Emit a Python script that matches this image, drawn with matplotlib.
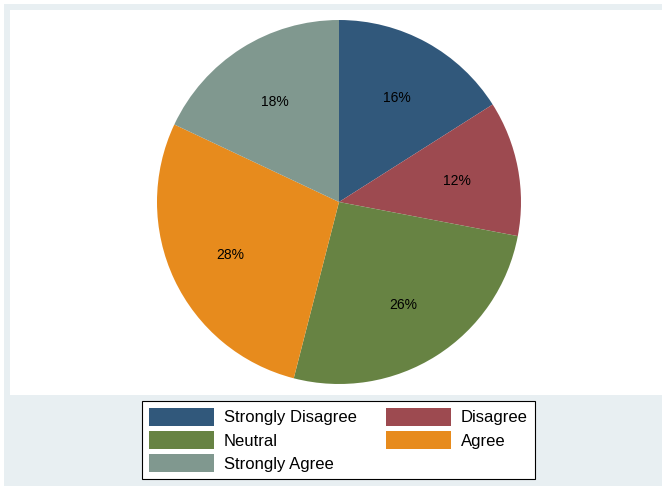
import matplotlib.pyplot as plt
from matplotlib.patches import Rectangle, Patch

plt.rcParams['font.family'] = ['Liberation Sans', 'DejaVu Sans']

# survey responses, share of respondents (%)
categories = ['Strongly Disagree', 'Disagree', 'Neutral', 'Agree', 'Strongly Agree']
shares = [16, 12, 26, 28, 18]
colors = ['#31587b', '#9d4a50', '#678343', '#e78b1d', '#80988f']

W, H = 662, 488
fig = plt.figure(figsize=(W / 100, H / 100), dpi=100, facecolor='white')

# light graph-region band and white plot region
fig.patches.append(Rectangle((4 / W, 2 / H), 1, (H - 6) / H, transform=fig.transFigure,
                             facecolor='#e8eff2', edgecolor='none', zorder=-10))
fig.patches.append(Rectangle((10 / W, (H - 395) / H), 1, (395 - 10) / H, transform=fig.transFigure,
                             facecolor='white', edgecolor='none', zorder=-9))

r = 182
cx, cy = 339, H - 202
ax = fig.add_axes([(cx - r) / W, (cy - r) / H, 2 * r / W, 2 * r / H])
ax.set_zorder(1)
ax.patch.set_visible(False)

wedges, texts = ax.pie(shares, colors=colors, startangle=90, counterclock=False,
                       labels=[f'{s}%' for s in shares], labeldistance=0.66,
                       wedgeprops=dict(linewidth=0),
                       textprops=dict(fontsize=10, color='black', ha='center',
                                      va='center_baseline'))
ax.set_xlim(-1, 1)
ax.set_ylim(-1, 1)
ax.set_aspect('equal')
ax.axis('off')

# legend filled row by row: two columns
order = [0, 2, 4, 1, 3]
handles = [Patch(facecolor=colors[i], edgecolor='none') for i in order]
labels = [categories[i] for i in order]
leg = fig.legend(handles, labels, ncol=2, loc='center',
                 bbox_to_anchor=(338.5 / W, (H - 440) / H),
                 fontsize=12, frameon=True, fancybox=False, shadow=False, framealpha=1,
                 handlelength=3.9, handleheight=1.3, handletextpad=0.6,
                 columnspacing=1.75, labelspacing=0.3, borderpad=0.4,
                 borderaxespad=0)
leg.set_zorder(2)
leg.get_frame().set_edgecolor('black')
leg.get_frame().set_linewidth(0.8)
leg.get_frame().set_facecolor('white')

fig.savefig('out.png', dpi=100, facecolor='white')
